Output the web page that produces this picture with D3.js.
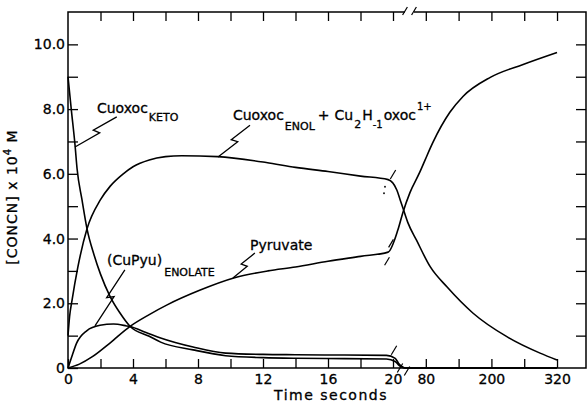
<!DOCTYPE html>
<html>
<head>
<meta charset="utf-8">
<script src="https://cdn.jsdelivr.net/npm/d3@7"></script>
<style>
  body { margin: 0; background: #fff; }
  text { font-family: "DejaVu Sans", sans-serif; fill: #000; stroke: #000; stroke-width: 0.3px; }
</style>
</head>
<body>
<div id="chart"></div>
<script>
// time (s) and concentration (x 10^-4 M)
var ketoT = [0, 0.2, 0.43, 0.56, 0.86, 1.17, 1.6, 2.0, 2.6, 3.2, 3.8, 5, 5.7, 7.7, 9.7, 12, 14, 17, 19.6, 24, 30, 36, 42, 80, 140, 200, 260, 320];
var ketoC = [9.0, 8.0, 6.9, 6.15, 5.2, 4.3, 3.5, 2.9, 2.2, 1.7, 1.3, 0.98, 0.8, 0.56, 0.38, 0.32, 0.3, 0.29, 0.28, 0.2, 0.1, 0.03, 0, 0, 0, 0, 0, 0];

var cuPyuT = [0, 0.2, 0.53, 1.15, 1.97, 2.8, 3.6, 3.8, 4.8, 5.7, 7.7, 9.7, 12, 14, 17, 19.6, 24, 30, 36, 42, 80, 140, 200, 260, 320];
var cuPyuC = [0, 0.3, 0.77, 1.15, 1.32, 1.36, 1.3, 1.28, 1.1, 0.93, 0.65, 0.46, 0.42, 0.41, 0.4, 0.39, 0.3, 0.15, 0.05, 0, 0, 0, 0, 0, 0];

var enolT = [0, 0.1, 0.25, 0.6, 1.17, 2.0, 2.6, 3.4, 4, 5, 6, 7, 9.2, 12.2, 14, 16, 18, 19.7, 27, 33, 38, 47, 63, 88, 119, 166, 229, 289, 320];
var enolC = [1.0, 1.6, 2.1, 3.1, 4.3, 5.2, 5.62, 6.0, 6.22, 6.43, 6.53, 6.56, 6.53, 6.35, 6.2, 6.07, 5.93, 5.82, 5.5, 5.2, 4.95, 4.5, 3.95, 3.13, 2.5, 1.7, 0.96, 0.46, 0.25];

var pyrT = [0, 0.7, 1.5, 2.6, 3.8, 5, 6.1, 8.1, 10.2, 12.3, 14, 16, 18, 19.7, 29, 38, 51, 69, 79, 93, 124, 148, 198, 258, 320];
var pyrC = [0, 0.12, 0.35, 0.78, 1.28, 1.65, 1.95, 2.4, 2.78, 3.0, 3.12, 3.3, 3.45, 3.58, 4.27, 4.8, 5.42, 6.05, 6.44, 6.97, 7.9, 8.39, 8.98, 9.38, 9.75];

var yTicks = [0, 1, 2, 3, 4, 5, 6, 7, 8, 9, 10];
var xTicks = [0, 2, 4, 6, 8, 10, 12, 14, 16, 18, 20, 80, 140, 200, 260, 320];
var xLabels = [0, 4, 8, 12, 16, 20, 80, 200, 320];

(function kineticsChart(){
	var width = 588, height = 403;
	var left = 68, right = 586, top = 12, bottom = 368;

	var svg = d3.select("#chart")
		.append("svg")
			.attr("width", width)
			.attr("height", height);

	// broken time axis: 0-20 s stretched, 20-373 s compressed
	var x = d3.scaleLinear()
		.domain([0, 20, 373])
		.range([left, 393, right]);
	var y = d3.scaleLinear()
		.domain([0, 11])
		.range([bottom, top]);

	function styleAxis(g) {
		g.attr("font-family", null).attr("font-size", null);
		g.select(".domain").remove();
		g.selectAll(".tick line").attr("stroke", "#000").attr("stroke-width", 1.3);
		g.selectAll(".tick text").style("font-size", "14px");
	}

	// left axis
	svg.append("g")
		.attr("transform", "translate(" + left + ",0)")
		.call(d3.axisLeft(y).tickValues(yTicks).tickSizeInner(-10).tickSizeOuter(0).tickPadding(3)
			.tickFormat(function(d){ return d % 2 ? "" : (d === 0 ? "0" : d.toFixed(1)); }))
		.call(styleAxis);

	// right axis
	svg.append("g")
		.attr("transform", "translate(" + right + ",0)")
		.call(d3.axisRight(y).tickValues(yTicks.slice(1)).tickSizeInner(-10).tickSizeOuter(0).tickFormat(""))
		.call(styleAxis);

	// bottom axis
	svg.append("g")
		.attr("transform", "translate(0," + bottom + ")")
		.call(d3.axisBottom(x).tickValues(xTicks).tickSizeInner(-9).tickSizeOuter(0).tickPadding(6)
			.tickFormat(function(d){ return xLabels.indexOf(d) >= 0 ? d : ""; }))
		.call(styleAxis);

	// top axis
	svg.append("g")
		.attr("transform", "translate(0," + top + ")")
		.call(d3.axisTop(x).tickValues(xTicks.slice(1)).tickSizeInner(-9).tickSizeOuter(0).tickFormat(""))
		.call(styleAxis);

	// frame, with the break in the top edge
	var gapA = x(20) + 12, gapB = x(20) + 21;
	var frame = d3.path();
	frame.moveTo(gapA, top); frame.lineTo(left, top); frame.lineTo(left, bottom);
	frame.lineTo(right, bottom); frame.lineTo(right, top); frame.lineTo(gapB, top);
	svg.append("path")
		.attr("d", frame.toString())
		.attr("fill", "none")
		.attr("stroke", "#000")
		.attr("stroke-width", 1.5);

	function slash(cx, cy, len) {
		svg.append("line")
			.attr("x1", cx - len * 0.3).attr("y1", cy + len / 2)
			.attr("x2", cx + len * 0.3).attr("y2", cy - len / 2)
			.attr("stroke", "#000").attr("stroke-width", 1.2);
	}
	slash(gapA, top - 1, 8);
	slash(gapB, top - 1, 8);
	slash(x(20) + 7, bottom, 9);
	slash(x(20) + 14, bottom + 3, 9);

	// curves
	var line = d3.line()
		.x(function(d){ return x(d[0]); })
		.y(function(d){ return y(d[1]); })
		.curve(d3.curveMonotoneX);

	var series = [
		{t: ketoT, c: ketoC},
		{t: cuPyuT, c: cuPyuC},
		{t: enolT, c: enolC},
		{t: pyrT, c: pyrC}
	];

	svg.append("g")
		.selectAll("path")
		.data(series)
		.enter()
		.append("path")
			.attr("d", function(s){ return line(d3.zip(s.t, s.c)); })
			.attr("fill", "none")
			.attr("stroke", "#000")
			.attr("stroke-width", 1.6);

	// break marks on the curves
	slash(x(20), y(5.98), 9);
	slash(x(20) - 2, y(3.85), 8);
	slash(x(20) - 6, y(3.3), 8);
	slash(x(20) + 1, y(0.55), 9);
	[[5.6], [5.4]].forEach(function(p, i){
		svg.append("circle")
			.attr("cx", x(20) - 8 - i)
			.attr("cy", y(p[0]))
			.attr("r", 0.9)
			.attr("fill", "#000");
	});

	// lightning-style leader lines
	function leader(t1, c1, t2, c2) {
		var ax = x(t1), ay = y(c1), bx = x(t2), by = y(c2);
		var dx = bx - ax, dy = by - ay, len = Math.sqrt(dx * dx + dy * dy);
		var nx = -dy / len, ny = dx / len;
		var p = d3.path();
		p.moveTo(ax, ay);
		p.lineTo(ax + dx * 0.52 + nx * 3, ay + dy * 0.52 + ny * 3);
		p.lineTo(ax + dx * 0.45 - nx * 3, ay + dy * 0.45 - ny * 3);
		p.lineTo(bx, by);
		svg.append("path")
			.attr("d", p.toString())
			.attr("fill", "none")
			.attr("stroke", "#000")
			.attr("stroke-width", 1.3);
	}
	leader(3.0, 7.76, 0.43, 6.83);
	leader(11.2, 7.5, 9.23, 6.52);
	leader(3.5, 3.03, 1.66, 1.3);
	leader(11.5, 3.55, 10.15, 2.78);

	// annotations
	var keto = svg.append("text").attr("x", x(1.78)).attr("y", y(7.88)).style("font-size", "14px");
	keto.append("tspan").text("Cuoxoc");
	keto.append("tspan").attr("dy", 8).attr("dx", 1).style("font-size", "11px").text("KETO");

	var enol = svg.append("text").attr("x", x(10.15)).attr("y", y(7.66)).style("font-size", "14px");
	enol.append("tspan").text("Cuoxoc");
	enol.append("tspan").attr("dy", 10).attr("dx", 1).style("font-size", "11px").text("ENOL");
	enol.append("tspan").attr("dy", -10).attr("dx", 3).text("+");
	enol.append("tspan").attr("dx", 5).text("Cu");
	enol.append("tspan").attr("dy", 8).attr("dx", 1).style("font-size", "11px").text("2");
	enol.append("tspan").attr("dy", -8).attr("dx", 1).text("H");
	enol.append("tspan").attr("dy", 8).style("font-size", "10px").text("-1");
	enol.append("tspan").attr("dy", -8).attr("dx", 1).text("oxoc");
	enol.append("tspan").attr("dy", -10).attr("dx", 1).style("font-size", "10px").text("1+");

	var cuPyu = svg.append("text").attr("x", x(2.4)).attr("y", y(3.18)).style("font-size", "14px");
	cuPyu.append("tspan").text("(CuPyu)");
	cuPyu.append("tspan").attr("dy", 11).attr("dx", 2).style("font-size", "11px").text("ENOLATE");

	svg.append("text").attr("x", x(11.2)).attr("y", y(3.65)).style("font-size", "14px").text("Pyruvate");

	// axis titles
	svg.append("text")
		.attr("x", 331).attr("y", 400)
		.attr("text-anchor", "middle")
		.style("font-size", "14px")
		.style("letter-spacing", "1.5px")
		.text("Time seconds");

	var yTitle = svg.append("text")
		.attr("transform", "translate(17,197) rotate(-90)")
		.attr("text-anchor", "middle")
		.style("font-size", "14px")
		.style("letter-spacing", "1px");
	yTitle.append("tspan").text("[CONCN] x 10");
	yTitle.append("tspan").attr("dy", -6).style("font-size", "10px").text("4");
	yTitle.append("tspan").attr("dy", 6).text(" M");
}());
</script>
</body>
</html>
